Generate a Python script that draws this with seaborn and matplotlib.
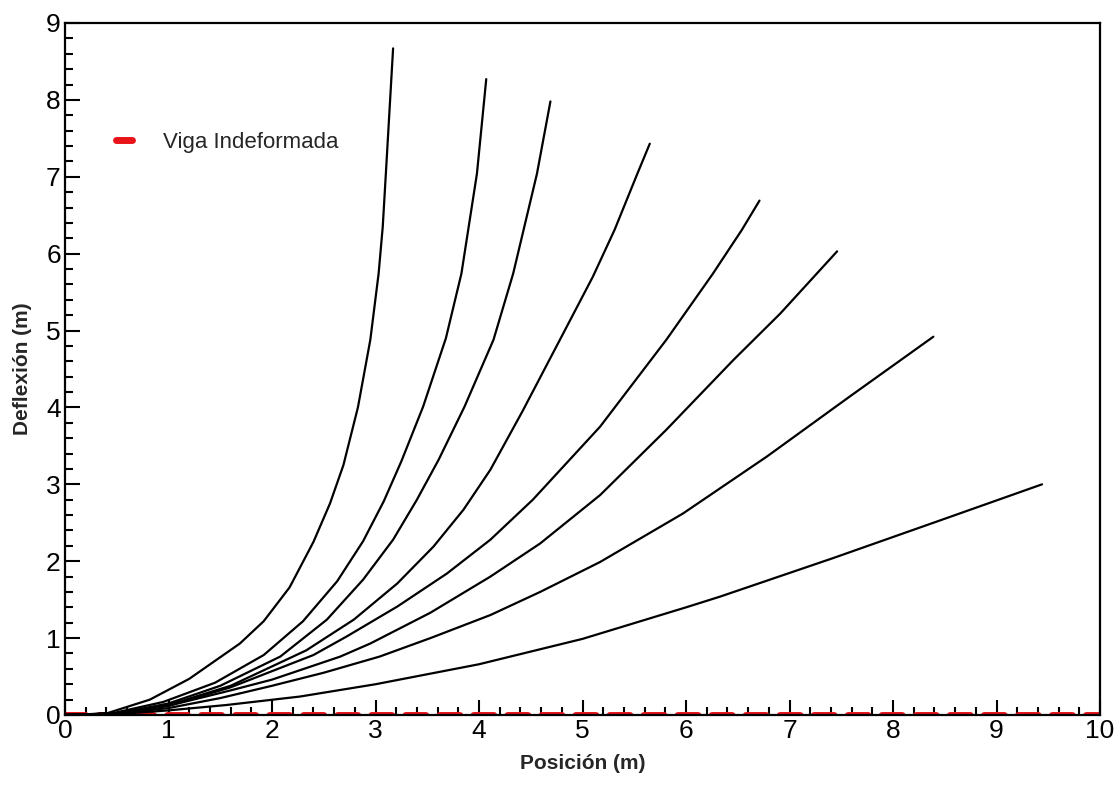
import numpy as np
import pandas as pd
import matplotlib
matplotlib.use("Agg")
import matplotlib.pyplot as plt
from matplotlib.ticker import MultipleLocator
import seaborn as sns

# ---- data (x = Posición, y = Deflexión) ----
c1_x = [0, 0.4, 0.82, 1.2, 1.69, 1.92, 2.17, 2.40, 2.56, 2.69, 2.83, 2.95, 3.03, 3.07, 3.10, 3.17]
c1_y = [0, 0.02, 0.2, 0.47, 0.93, 1.22, 1.66, 2.25, 2.75, 3.25, 4.00, 4.88, 5.74, 6.35, 7.04, 8.67]

c2_x = [0, 0.45, 0.95, 1.45, 1.92, 2.30, 2.63, 2.88, 3.08, 3.25, 3.46, 3.68, 3.83, 3.98, 4.07]
c2_y = [0, 0.02, 0.17, 0.42, 0.78, 1.22, 1.74, 2.26, 2.78, 3.30, 4.01, 4.90, 5.74, 7.04, 8.27]

c3_x = [0, 0.5, 1.0, 1.5, 2.08, 2.53, 2.88, 3.17, 3.40, 3.61, 3.86, 4.14, 4.33, 4.56, 4.69]
c3_y = [0, 0.02, 0.15, 0.38, 0.76, 1.24, 1.76, 2.28, 2.80, 3.32, 4.01, 4.88, 5.74, 7.04, 7.98]

c4_x = [0, 0.5, 1.0, 1.6, 2.33, 2.79, 3.21, 3.56, 3.85, 4.11, 4.42, 4.77, 5.10, 5.31, 5.53, 5.65]
c4_y = [0, 0.02, 0.13, 0.38, 0.84, 1.24, 1.71, 2.19, 2.67, 3.19, 3.95, 4.85, 5.70, 6.31, 7.04, 7.43]

c5_x = [0, 0.5, 1.0, 1.6, 2.4, 2.72, 3.21, 3.69, 4.11, 4.52, 5.17, 5.81, 6.26, 6.54, 6.71]
c5_y = [0, 0.02, 0.12, 0.36, 0.78, 1.02, 1.41, 1.84, 2.28, 2.80, 3.75, 4.88, 5.74, 6.31, 6.69]

c6_x = [0, 0.5, 1.0, 1.6, 2.0, 2.66, 2.95, 3.53, 4.11, 4.59, 5.17, 5.81, 6.46, 6.91, 7.46]
c6_y = [0, 0.02, 0.12, 0.32, 0.46, 0.76, 0.93, 1.33, 1.80, 2.23, 2.86, 3.71, 4.62, 5.22, 6.03]

c7_x = [0, 0.5, 1.0, 1.5, 2.0, 2.5, 3.04, 3.53, 4.11, 4.59, 5.17, 5.97, 6.78, 7.58, 8.39]
c7_y = [0, 0.015, 0.09, 0.22, 0.38, 0.55, 0.76, 1.00, 1.30, 1.60, 1.99, 2.62, 3.36, 4.14, 4.92]

c8_x = [0, 0.5, 1.0, 1.56, 2.27, 3.0, 4.0, 5.0, 6.0, 6.33, 7.42, 8.39, 9.44]
c8_y = [0, 0.01, 0.06, 0.13, 0.24, 0.40, 0.66, 0.99, 1.40, 1.54, 2.04, 2.50, 3.00]

viga_x = [0, 10]
viga_y = [0, 0]
viga_label = "Viga Indeformada"

x_ticks = list(range(0, 11))
y_ticks = list(range(0, 10))
x_label = "Posición (m)"
y_label = "Deflexión (m)"

curves_x = [c1_x, c2_x, c3_x, c4_x, c5_x, c6_x, c7_x, c8_x]
curves_y = [c1_y, c2_y, c3_y, c4_y, c5_y, c6_y, c7_y, c8_y]
frames = []
for i, (cx, cy) in enumerate(zip(curves_x, curves_y)):
    frames.append(pd.DataFrame({"x": cx, "y": cy, "curve": i}))
df = pd.concat(frames, ignore_index=True)

# ---- style ----
sns.set_theme(style="ticks")
plt.rcParams["font.family"] = ["Liberation Sans", "DejaVu Sans"]

fig = plt.figure(figsize=(11.19, 7.89), dpi=100)
ax = fig.add_axes([65 / 1119, 1 - 715 / 789, (1100 - 65) / 1119, (715 - 23) / 789])

sns.lineplot(data=df, x="x", y="y", units="curve", estimator=None, sort=False,
             color="black", linewidth=1.6, ax=ax, legend=False)

sns.lineplot(x=viga_x, y=viga_y, color="#e8141a", linewidth=5,
             linestyle=(0, (2.9, 2.0)), dash_capstyle="round",
             label=viga_label, ax=ax, zorder=1.5)

ax.set_xlim(0, 10)
ax.set_ylim(0, 9)
ax.set_xticks(x_ticks)
ax.set_yticks(y_ticks)
ax.xaxis.set_minor_locator(MultipleLocator(0.2))
ax.yaxis.set_minor_locator(MultipleLocator(0.2))
ax.tick_params(which="both", direction="in", top=False, right=False,
               colors="black", width=1.5)
ax.tick_params(which="major", length=11, labelsize=19, pad=3)
ax.tick_params(which="minor", length=6)
for s in ax.spines.values():
    s.set_linewidth(1.6)
    s.set_color("black")
    s.set_visible(True)

ax.set_xlabel(x_label, fontsize=15, fontweight="bold", labelpad=8)
ax.set_ylabel(y_label, fontsize=15, fontweight="bold", labelpad=10)

leg = ax.legend(loc="center left", bbox_to_anchor=(0.03, 0.827), frameon=False,
                fontsize=16, handlelength=0.7, handletextpad=1.4)

fig.savefig("out.png", dpi=100, facecolor="white")
